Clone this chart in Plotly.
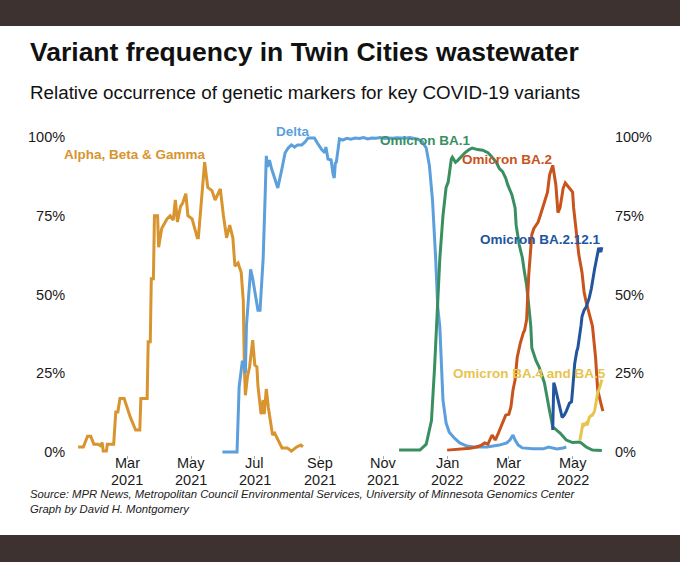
import plotly.graph_objects as go

# ---------------- data ----------------
alpha_dates = ["2021-01-13","2021-01-18","2021-01-22","2021-01-25","2021-01-28","2021-02-01","2021-02-03","2021-02-05","2021-02-06","2021-02-09","2021-02-10","2021-02-16","2021-02-18","2021-02-20","2021-02-22","2021-02-26","2021-03-04","2021-03-09","2021-03-13","2021-03-14","2021-03-20","2021-03-21","2021-03-23","2021-03-24","2021-03-26","2021-03-27","2021-03-30","2021-03-31","2021-04-03","2021-04-08","2021-04-11","2021-04-14","2021-04-16","2021-04-18","2021-04-21","2021-04-23","2021-04-26","2021-04-28","2021-05-02","2021-05-07","2021-05-08","2021-05-11","2021-05-14","2021-05-17","2021-05-21","2021-05-24","2021-05-29","2021-06-01","2021-06-04","2021-06-07","2021-06-10","2021-06-12","2021-06-15","2021-06-18","2021-06-20","2021-06-21","2021-06-22","2021-06-24","2021-06-26","2021-06-29","2021-07-01","2021-07-03","2021-07-04","2021-07-07","2021-07-09","2021-07-10","2021-07-12","2021-07-14","2021-07-18","2021-07-20","2021-07-27","2021-08-01","2021-08-05","2021-08-10","2021-08-14","2021-08-16"]
alpha_vals = [1.6,1.6,5,5,2.5,2.5,2,3,0.3,0.3,2.5,2.5,12.7,12.7,17,17,11,7,7,17,17,35,35,55,55,75,75,65,71,74,75,73.6,80,73,78,79,82,75,74,68,68,80,92,84,83,80,83.5,75,68,72,68,59,60,57,48,27,18,24,27,35.5,27.6,27,21,12,16.5,12,20,14,5.4,6,1.3,1.3,0.3,1.6,2.2,1.6]

delta_dates = ["2021-05-31","2021-06-14","2021-06-16","2021-06-19","2021-06-21","2021-06-22","2021-06-23","2021-06-27","2021-06-29","2021-07-04","2021-07-06","2021-07-09","2021-07-11","2021-07-12","2021-07-13","2021-07-15","2021-07-17","2021-07-20","2021-07-23","2021-07-27","2021-07-30","2021-08-02","2021-08-05","2021-08-08","2021-08-11","2021-08-15","2021-08-18","2021-08-21","2021-08-27","2021-08-30","2021-09-03","2021-09-06","2021-09-07","2021-09-09","2021-09-12","2021-09-14","2021-09-15","2021-09-16","2021-09-17","2021-09-20","2021-09-23","2021-09-27","2021-10-01","2021-10-05","2021-10-09","2021-10-13","2021-10-17","2021-10-21","2021-10-25","2021-10-29","2021-11-02","2021-11-06","2021-11-10","2021-11-14","2021-11-18","2021-11-22","2021-11-26","2021-11-30","2021-12-04","2021-12-08","2021-12-12","2021-12-15","2021-12-18","2021-12-21","2021-12-23","2021-12-25","2021-12-27","2021-12-28","2021-12-31","2022-01-03","2022-01-08","2022-01-13","2022-01-20","2022-01-26","2022-02-01","2022-02-08","2022-02-14","2022-02-20","2022-02-27","2022-03-02","2022-03-05","2022-03-07","2022-03-10","2022-03-14","2022-03-24","2022-04-03","2022-04-08","2022-04-12","2022-04-16","2022-04-22","2022-04-25"]
delta_vals = [0,0,20.6,28.6,28.6,25,40,58,55,45,45,61.5,82.5,94,90.5,92.7,90,87,83.8,90,95,96.5,97.5,96.8,97.5,97.5,98.4,99.7,99.7,98,96,95,96.8,93,92.7,88,87,91.7,92,99.4,99,99.6,99.3,99.7,99.5,99.8,99.4,99.7,99.6,99.8,99.5,99.7,99.6,99.8,99.7,99.6,99.8,99.5,99.3,98.6,96.5,91,80,61.5,46,39.7,27,16.5,9.2,6.3,4.4,2.9,1.9,1.6,1.6,1.6,1.9,2.2,2.9,3.8,5.4,3.8,2.2,1.3,1,1,1.6,1.3,1,1.3,1.6]

ba1_dates = ["2021-11-16","2021-12-06","2021-12-12","2021-12-17","2021-12-20","2021-12-22","2021-12-25","2021-12-28","2021-12-31","2022-01-02","2022-01-05","2022-01-06","2022-01-09","2022-01-11","2022-01-15","2022-01-18","2022-01-22","2022-01-25","2022-01-30","2022-02-04","2022-02-09","2022-02-12","2022-02-17","2022-02-20","2022-02-23","2022-02-26","2022-02-28","2022-03-04","2022-03-07","2022-03-08","2022-03-11","2022-03-14","2022-03-16","2022-03-18","2022-03-20","2022-03-22","2022-03-23","2022-03-27","2022-03-30","2022-04-04","2022-04-09","2022-04-12","2022-04-19","2022-04-25","2022-05-01","2022-05-08","2022-05-14","2022-05-20","2022-05-29"]
ba1_vals = [0.6,0.6,2.5,10,27,42,61.5,75,84,85.7,93,93.6,92,92.5,94,95,96,96.5,96,95.8,95,94,92,90,89,87,84.8,81.6,77.5,72,65.7,61.6,57,53,46.7,40,33,29,27,22,13,8,6,3.8,3,3.2,1.6,0.6,0.5]

ba2_dates = ["2022-01-01","2022-01-13","2022-01-23","2022-01-29","2022-02-03","2022-02-06","2022-02-09","2022-02-13","2022-02-16","2022-02-19","2022-02-23","2022-02-26","2022-03-01","2022-03-03","2022-03-05","2022-03-07","2022-03-09","2022-03-12","2022-03-15","2022-03-16","2022-03-18","2022-03-19","2022-03-20","2022-03-23","2022-03-25","2022-03-27","2022-03-29","2022-03-31","2022-04-03","2022-04-07","2022-04-09","2022-04-12","2022-04-15","2022-04-17","2022-04-19","2022-04-22","2022-04-24","2022-04-27","2022-05-01","2022-05-02","2022-05-06","2022-05-07","2022-05-10","2022-05-12","2022-05-14","2022-05-16","2022-05-20","2022-05-23","2022-05-25","2022-05-28","2022-05-30"]
ba2_vals = [0.6,0.8,1.2,1.6,2.2,2.9,2.5,5.4,3.8,6,9.2,11.7,12,14.3,19.7,22.9,30,34.6,38,38.5,42,48,56,69,71,72,73,75,78,82.5,88,91,84.8,76,77.5,83.8,85.4,84,82.5,77.5,66.7,62.5,57,50.8,47.6,45,40,30,19.7,15.5,13]

ba2121_dates = ["2022-04-12","2022-04-13","2022-04-14","2022-04-15","2022-04-20","2022-04-21","2022-04-23","2022-04-25","2022-04-28","2022-04-30","2022-05-01","2022-05-03","2022-05-05","2022-05-06","2022-05-09","2022-05-10","2022-05-12","2022-05-14","2022-05-17","2022-05-19","2022-05-22","2022-05-24","2022-05-26","2022-05-28","2022-05-29"]
ba2121_vals = [7,22,21,19.7,13,11,11.7,13,15.5,16,19.7,28,32,33,40,43,45,46,49,52,58,61.5,64.8,63.5,65]

ba45_dates = ["2022-05-08","2022-05-10","2022-05-11","2022-05-12","2022-05-14","2022-05-15","2022-05-17","2022-05-19","2022-05-20","2022-05-22","2022-05-24","2022-05-25","2022-05-27","2022-05-29"]
ba45_vals = [3.8,7,9.2,8.5,9.2,8.5,11,11.7,11.7,13,16.5,18.7,20.6,23]

x_tick_vals = ["2021-03-01","2021-05-01","2021-07-01","2021-09-01","2021-11-01","2022-01-01","2022-03-01","2022-05-01"]
x_tick_months = ["Mar","May","Jul","Sep","Nov","Jan","Mar","May"]
x_tick_years = ["2021","2021","2021","2021","2021","2022","2022","2022"]
y_tick_vals = [0, 25, 50, 75, 100]
y_tick_text = ["0%", "25%", "50%", "75%", "100%"]

series_names = ["Alpha, Beta & Gamma", "Delta", "Omicron BA.1", "Omicron BA.2", "Omicron BA.2.12.1", "Omicron BA.4 and BA.5"]
series_colors = ["#d8942e", "#5b9fdc", "#3a8f62", "#c9531d", "#22559e", "#e7c44e"]
label_x = ["2021-03-08", "2021-08-07", "2021-12-11", "2022-02-27", "2022-03-31", "2022-03-21"]
label_y = [94.3, 101.7, 98.8, 93.0, 67.5, 25.0]

# ---------------- layout geometry ----------------
W, H = 680, 562
ML, MR, MT, MB = 75, 75, 128, 107
PW, PH = W - ML - MR, H - MT - MB
YRANGE = [-0.95, 102.86]
XRANGE = ["2021-01-10", "2022-06-01"]
FONT = "Liberation Sans, Arial, Helvetica, sans-serif"
BAND = "#3e3231"
TICK_COLOR = "#1a1a1a"


def px_x(px):
    return (px - ML) / PW


def px_y(py):
    return (H - MB - py) / PH


fig = go.Figure()
all_x = [alpha_dates, delta_dates, ba1_dates, ba2_dates, ba2121_dates, ba45_dates]
all_y = [alpha_vals, delta_vals, ba1_vals, ba2_vals, ba2121_vals, ba45_vals]
for i, (xs, ys) in enumerate(zip(all_x, all_y)):
    fig.add_trace(go.Scatter(
        x=xs, y=ys, mode="lines", name=series_names[i],
        line=dict(color=series_colors[i], width=3),
        yaxis="y2" if i == len(all_x) - 1 else "y",
        cliponaxis=False, showlegend=False, hoverinfo="skip",
    ))

annotations = []
for i in range(len(series_names)):
    annotations.append(dict(
        x=label_x[i], y=label_y[i], xref="x", yref="y", text=series_names[i],
        showarrow=False, xanchor="center", yanchor="middle",
        font=dict(family=FONT, size=13.5, color=series_colors[i], weight="bold"),
    ))

# two-line x tick labels (month / year), placed on the date axis
for xv, mo, yr in zip(x_tick_vals, x_tick_months, x_tick_years):
    annotations.append(dict(x=xv, xref="x", y=px_y(463), yref="paper", text=mo,
                            showarrow=False, xanchor="center", yanchor="middle",
                            font=dict(family=FONT, size=14.5, color=TICK_COLOR)))
    annotations.append(dict(x=xv, xref="x", y=px_y(480), yref="paper", text=yr,
                            showarrow=False, xanchor="center", yanchor="middle",
                            font=dict(family=FONT, size=14.5, color=TICK_COLOR)))

annotations += [
    dict(x=px_x(28), y=px_y(52), xref="paper", yref="paper", xanchor="left", yanchor="middle",
         text="<b>Variant frequency in Twin Cities wastewater</b>", showarrow=False,
         font=dict(family=FONT, size=26.5, color="#111111")),
    dict(x=px_x(28), y=px_y(93), xref="paper", yref="paper", xanchor="left", yanchor="middle",
         text="Relative occurrence of genetic markers for key COVID-19 variants", showarrow=False,
         font=dict(family=FONT, size=18.8, color="#111111")),
    dict(x=px_x(28), y=px_y(486), xref="paper", yref="paper", xanchor="left", yanchor="top",
         align="left", showarrow=False,
         text="<i>Source: MPR News, Metropolitan Council Environmental Services, University of Minnesota Genomics Center<br>Graph by David H. Montgomery</i>",
         font=dict(family=FONT, size=11.3, color="#222222")),
]

shapes = [
    dict(type="rect", xref="paper", yref="paper", x0=px_x(0), x1=px_x(W), y0=px_y(0), y1=px_y(26),
         fillcolor=BAND, line=dict(width=0), layer="below"),
    dict(type="rect", xref="paper", yref="paper", x0=px_x(0), x1=px_x(W), y0=px_y(535), y1=px_y(H),
         fillcolor=BAND, line=dict(width=0), layer="below"),
]

yaxis_common = dict(
    range=YRANGE, tickvals=y_tick_vals, ticktext=y_tick_text, showgrid=False, zeroline=False,
    showline=False, ticks="outside", ticklen=6, tickcolor="rgba(0,0,0,0)",
    tickfont=dict(family=FONT, size=14.5, color=TICK_COLOR), fixedrange=True,
)

fig.update_layout(
    width=W, height=H,
    margin=dict(l=ML, r=MR, t=MT, b=MB, pad=0),
    paper_bgcolor="white", plot_bgcolor="white",
    showlegend=False,
    xaxis=dict(
        type="date", range=XRANGE, tickvals=x_tick_vals, showticklabels=False,
        showgrid=False, zeroline=False, showline=False,
        ticks="outside", ticklen=3, tickcolor="#aaaaaa", tickwidth=1, fixedrange=True,
    ),
    yaxis=dict(side="left", **yaxis_common),
    yaxis2=dict(side="right", overlaying="y", **yaxis_common),
    annotations=annotations,
    shapes=shapes,
)

fig.write_html("out.html", config={"displayModeBar": False},
               post_script="document.body.style.margin='0';")
